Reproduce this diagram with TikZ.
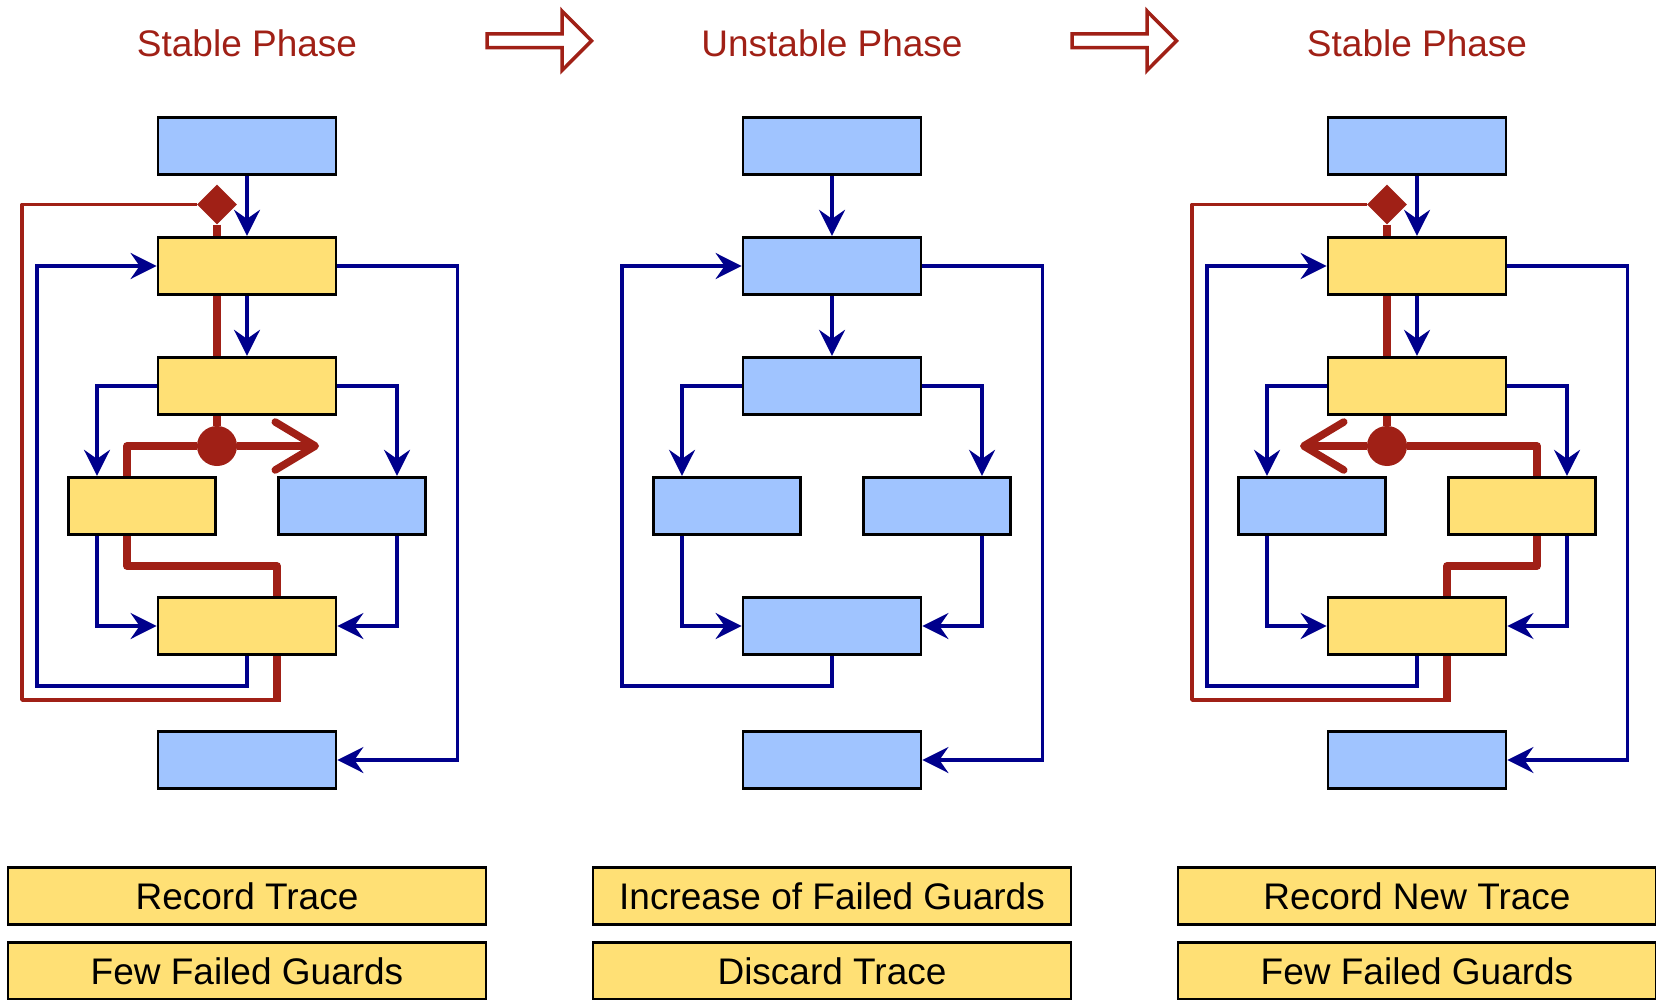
\documentclass[tikz,border=0pt]{standalone}
\usepackage{fontspec}
\setmainfont{Liberation Sans}
\usetikzlibrary{arrows.meta,shapes.geometric}
\definecolor{myblue}{RGB}{160,196,255}
\definecolor{myyellow}{RGB}{255,224,117}
\definecolor{myred}{RGB}{160,32,22}
\definecolor{mynavy}{RGB}{0,0,140}

\begin{document}
\begin{tikzpicture}[x=1pt,y=-1pt]
\tikzset{Box/.style ={draw, line width=2.8pt, minimum width=178pt, minimum height=57.5pt, inner sep=0pt}}
\tikzset{SmallBox/.style ={Box, minimum width=147.5pt}}
\tikzset{Label/.style ={Box, fill=myyellow, minimum width=478pt, font=\fontsize{37}{44}\selectfont}}
\tikzset{Title/.style ={text=myred, anchor=base, font=\fontsize{37}{44}\selectfont}}
\tikzset{Flow/.style ={color=mynavy, line width=3.5pt, -{Stealth[length=26pt,width=26pt,inset=9pt]}}}
\tikzset{Trace/.style ={color=myred, line width=7.5pt, line join=round}}
\tikzset{Back/.style ={color=myred, line width=3.5pt, line join=round}}
\tikzset{Fork/.style ={fill=myred, inner sep=0pt}}
\useasboundingbox (0,0) rectangle (1656,1000);
% the three phases
\foreach \p/\cx/\colM/\colL/\colR/\phase/\lblA/\lblB in
  {1/247/myyellow/myyellow/myblue/Stable Phase/Record Trace/Few Failed Guards,
   2/832/myblue/myblue/myblue/Unstable Phase/Increase of Failed Guards/Discard Trace,
   3/1417/myyellow/myblue/myyellow/Stable Phase/Record New Trace/Few Failed Guards}{
\begin{scope}[xshift=\cx, name prefix=p\p-]
\node[Title] (title) at (0,57) {\phase};
\node[Box, fill=myblue] (entry) at (0,146) {};
\node[Box, fill=\colM] (head) at (0,266) {};
\node[Box, fill=\colM] (cond) at (0,386) {};
\node[SmallBox, fill=\colL] (left) at (-105,506) {};
\node[SmallBox, fill=\colR] (right) at (105,506) {};
\node[Box, fill=\colM] (join) at (0,626) {};
\node[Box, fill=myblue] (exit) at (0,760) {};
\node[Label] (info) at (0,896) {\lblA};
\node[Label] (result) at (0,971) {\lblB};
\draw[Flow] (entry) -- (head);
\draw[Flow] (head) -- (cond);
\draw[Flow] (cond.west) -| ([xshift=-45]left.north);
\draw[Flow] (cond.east) -| ([xshift=45]right.north);
\draw[Flow] ([xshift=-45]left.south) |- (join.west);
\draw[Flow] ([xshift=45]right.south) |- (join.east);
\draw[Flow] (join.south) |- (-210,686) |- (head.west);
\draw[Flow] (head.east) -| ([xshift=120]exit.east) -- (exit.east);
\end{scope}}
% phase arrows
\foreach \dx in {0,585}{
\begin{scope}[xshift=\dx]
\draw[myred, line width=3.5pt] (487,34) -- (562,34) -- (562,11) -- (591.5,40.8)
  -- (562,70.5) -- (562,47.6) -- (487,47.6) -- cycle;
\end{scope}}
% recorded trace, first stable phase
\begin{scope}[xshift=247, name prefix=p1-]
\node[Fork, diamond, minimum size=40pt] (start) at (-30,204.5) {};
\node[Fork, circle, minimum size=40pt] (split) at (-30,446) {};
\coordinate (tip) at (72,446);
\draw[Trace] (start) -- (start |- head.north);
\draw[Trace] (start |- head.south) -- (start |- cond.north);
\draw[Trace] (start |- cond.south) -- (split);
\draw[Trace] (split) -| ([xshift=-15]left.north);
\draw[Trace, -{Straight Barb[length=40pt,width=48pt,round]}] (split) -- (tip);
\draw[Trace] ([xshift=-15]left.south) |- (30,566) -- ([xshift=30]join.north);
\draw[Trace] ([xshift=30]join.south) -- (30,701.8);
\draw[Back] (30,700) -- (-225,700) |- (start.west);
\end{scope}
% recorded trace, second stable phase
\begin{scope}[xshift=1417, name prefix=p3-]
\node[Fork, diamond, minimum size=40pt] (start) at (-30,204.5) {};
\node[Fork, circle, minimum size=40pt] (split) at (-30,446) {};
\coordinate (tip) at (-117,446);
\draw[Trace] (start) -- (start |- head.north);
\draw[Trace] (start |- head.south) -- (start |- cond.north);
\draw[Trace] (start |- cond.south) -- (split);
\draw[Trace] (split) -| ([xshift=15]right.north);
\draw[Trace, -{Straight Barb[length=40pt,width=48pt,round]}] (split) -- (tip);
\draw[Trace] ([xshift=15]right.south) |- (30,566) -- ([xshift=30]join.north);
\draw[Trace] ([xshift=30]join.south) -- (30,701.8);
\draw[Back] (30,700) -- (-225,700) |- (start.west);
\end{scope}
\end{tikzpicture}
\end{document}
